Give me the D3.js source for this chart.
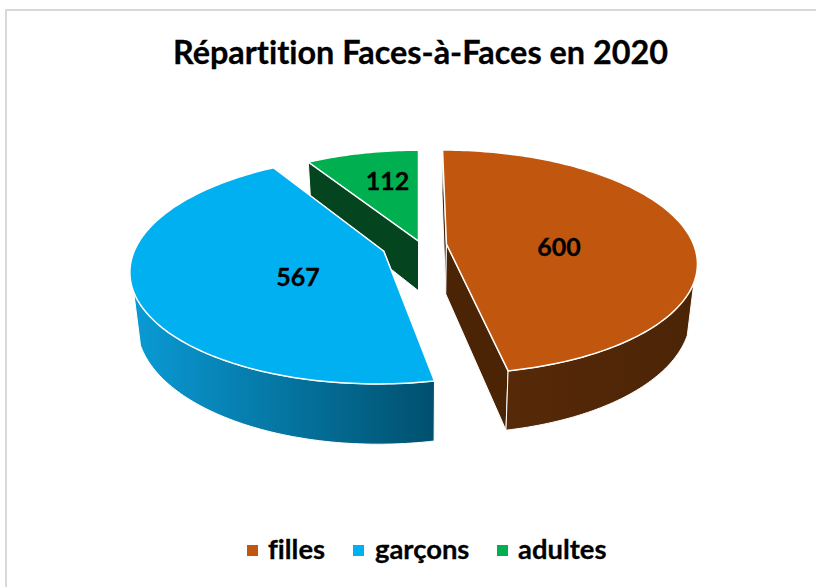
<!DOCTYPE html>
<html>
<head>
<meta charset="utf-8">
<script src="https://cdn.jsdelivr.net/npm/d3@7"></script>
<style>
  html, body { margin: 0; padding: 0; background: #fff; overflow: hidden; }
  text { font-family: Lato, "Open Sans", sans-serif; font-weight: 700; fill: #000; font-variant-ligatures: none; stroke: #000; stroke-width: 0.3px; }
</style>
</head>
<body>
<div id="myViz"></div>
<script>
const width = 816
const height = 587

const chartTitle = "Répartition Faces-à-Faces en 2020"
const categories = ["filles", "garçons", "adultes"]
const values = [600, 567, 112]
const colors = ["#c1570f", "#00b0f0", "#00b050"]
const wallStart = ["#5a2b09", "#0a9bd6", "#04451f"]
const wallEnd = ["#4b2406", "#00506e", "#04451f"]
const cutColors = ["#4b2406", "#00506e", "#04451f"]

// exploded offset of each slice, in pie radius units
const offsetX = [0.113, -0.139, 0]
const offsetY = [0, 0.065, -0.0275]
const sliceRadius = [1, 1, 0.97]

// where the value labels sit
const labelRadius = [0.45, 0.35, 0.5]
const labelNudge = [3, -2, 0]
const labelShift = [8, 11, -12]

const cx = 418.5, cy = 244
const rx = 247, ry = 109
const persp = 0.16
const depth = 50
const shrink = 0.976
// outer wall only shows on the front part of the rim
const wallFrom = 0.33

const svg = d3.select("#myViz")
  .append("svg")
    .attr("width", width)
    .attr("height", height)

const defs = svg.append("defs")

svg.append("rect")
  .attr("x", 6).attr("y", 10)
  .attr("width", width + 20).attr("height", height + 20)
  .attr("fill", "#fff")
  .attr("stroke", "#d9d9d9")
  .attr("stroke-width", 2)

function project(X, Y) {
  const s = 1 / (1 - persp * Y)
  return { x: cx + rx * X * s, y: cy + ry * Y * s, s: s }
}
function lower(p) {
  return [cx + (p.x - cx) * shrink, p.y + depth * p.s]
}

const line = d3.line()

const pie = d3.pie().sort(null).value(d => d)
const arcs = pie(values).map((d, i) => {
  const r = sliceRadius[i]
  const n = Math.ceil((d.endAngle - d.startAngle) / 0.02)
  const rim = d3.range(n + 1).map(k => {
    const a = d.startAngle + (d.endAngle - d.startAngle) * k / n
    const p = project(offsetX[i] + r * Math.sin(a), offsetY[i] - r * Math.cos(a))
    p.front = -Math.cos(a) >= wallFrom
    return p
  })
  return { i: i, d: d, rim: rim, apex: project(offsetX[i], offsetY[i]) }
})

arcs.forEach(a => {
  defs.append("linearGradient")
    .attr("id", "wall" + a.i)
    .attr("gradientUnits", "userSpaceOnUse")
    .attr("x1", d3.min(a.rim, p => p.x)).attr("x2", d3.max(a.rim, p => p.x))
    .attr("y1", 0).attr("y2", 0)
    .call(g => g.append("stop").attr("offset", 0).attr("stop-color", wallStart[a.i]))
    .call(g => g.append("stop").attr("offset", 1).attr("stop-color", wallEnd[a.i]))
})

// back slice first, then the two front ones
const order = [2, 1, 0]
order.forEach(i => {
  const a = arcs[i]
  const g = svg.append("g")

  // the two cut faces
  const first = a.rim[0], last = a.rim[a.rim.length - 1]
  ;[first, last].forEach(p => {
    g.append("path")
      .attr("d", line([[a.apex.x, a.apex.y], [p.x, p.y], lower(p), lower(a.apex)]) + "Z")
      .attr("fill", cutColors[i])
      .attr("stroke", "#fff")
      .attr("stroke-width", 1)
  })

  // outer wall
  const frontRim = a.rim.filter(p => p.front)
  if (frontRim.length) {
    const wallTop = frontRim.map(p => [p.x, p.y])
    const wallLow = frontRim.map(lower).reverse()
    g.append("path")
      .attr("d", line(wallTop.concat(wallLow)) + "Z")
      .attr("fill", "url(#wall" + i + ")")
      .attr("stroke", "#fff")
      .attr("stroke-width", 1)
  }

  // top face
  g.append("path")
    .attr("d", line([[a.apex.x, a.apex.y]].concat(a.rim.map(p => [p.x, p.y]))) + "Z")
    .attr("fill", colors[i])
    .attr("stroke", "#fff")
    .attr("stroke-width", 1.5)
})

// value labels
arcs.forEach(a => {
  const mid = (a.d.startAngle + a.d.endAngle) / 2
  const p = project(offsetX[a.i] + labelRadius[a.i] * Math.sin(mid), offsetY[a.i] - labelRadius[a.i] * Math.cos(mid))
  svg.append("text")
    .attr("x", p.x + labelNudge[a.i])
    .attr("y", p.y + labelShift[a.i] + 9)
    .attr("text-anchor", "middle")
    .style("font-size", "25px")
    .text(values[a.i])
})

svg.append("text")
  .attr("x", 420.5)
  .attr("y", 64)
  .attr("text-anchor", "middle")
  .style("font-size", "32.4px")
  .text(chartTitle)

// legend
const legendSwatch = [247, 353, 497]
const legendText = [268, 375, 518]
categories.forEach((c, i) => {
  svg.append("rect")
    .attr("x", legendSwatch[i]).attr("y", 545)
    .attr("width", 11).attr("height", 11)
    .attr("fill", colors[i])
  svg.append("text")
    .attr("x", legendText[i]).attr("y", 559)
    .style("font-size", "27.4px")
    .text(c)
})
</script>
</body>
</html>
